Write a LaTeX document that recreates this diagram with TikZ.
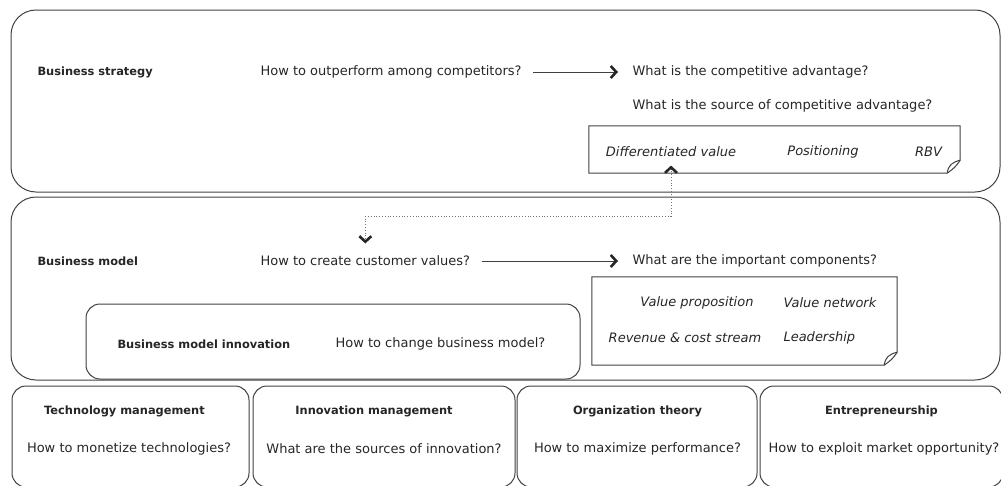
\documentclass[tikz,border=0pt]{standalone}
\usepackage{fontspec}
\setmainfont{DejaVu Sans}
\usetikzlibrary{arrows.meta}

% note frame with a turned-down corner round a named node
\newcommand\dogear[1]{%
  \draw[frame] (#1.north west) -- (#1.north east) -- ([yshift=13pt]#1.south east)
    .. controls ([xshift=-5pt,yshift=6pt]#1.south east) .. ([xshift=-13pt]#1.south east)
    -- (#1.south west) -- cycle;
  \draw[frame] ([xshift=-13pt]#1.south east)
    .. controls ([xshift=-12pt,yshift=8pt]#1.south east) and ([xshift=-8pt,yshift=11pt]#1.south east)
    .. ([yshift=13pt]#1.south east);}

\begin{document}
\begin{tikzpicture}[x=1pt,y=-1pt,
    frame/.style={draw=black!75,line width=1pt},
    field/.style={frame,rounded corners=25pt,inner sep=0pt},
    sub/.style={frame,rounded corners=14pt,inner sep=0pt},
    fieldname/.style={font=\fontsize{11.4}{14}\selectfont\bfseries,text=black!85},
    ask/.style={font=\fontsize{13}{15}\selectfont,text=black!85},
    item/.style={font=\fontsize{13}{15}\selectfont\itshape,text=black!85},
    chev/.tip={Straight Barb[length=5.5pt,width=12pt,line width=2.6pt,color=black!85]},
    flow/.style={draw=black!75,line width=0.8pt,-chev,shorten <=8pt,shorten >=11pt},
    link/.style={draw=black!55,line width=0.8pt,dotted,chev-chev,shorten <=5pt,shorten >=9pt}]
  \clip (0,0) rectangle (1001,485);

  % layers
  \node[field,minimum width=989pt,minimum height=182pt] (strategy) at (505.5,101) {};
  \node[field,minimum width=989pt,minimum height=183pt] (model) at (505.5,288.5) {};
  \node[sub,minimum width=494pt,minimum height=75pt] (bmi) at (333,341.5) {};
  \node[sub,minimum width=237pt,minimum height=101pt] (tech) at (130.5,436.5) {};
  \node[sub,minimum width=262pt,minimum height=101pt] (innov) at (384,436.5) {};
  \node[sub,minimum width=240pt,minimum height=101pt] (org) at (637,436.5) {};
  \node[sub,minimum width=243pt,minimum height=101pt] (entre) at (881.5,436.5) {};

  % business strategy
  \path
    (34,72) node[fieldname,anchor=west] (bs) {Business strategy}
    (257,72) node[ask,anchor=west] (outperform) {How to outperform among competitors?}
    (629,72) node[ask,anchor=west] (advantage) {What is the competitive advantage?}
    (629,106) node[ask,anchor=west] (source) {What is the source of competitive advantage?};
  \node (note1) at (774.5,149.5) [minimum width=371pt,minimum height=47pt] {};
  \dogear{note1}
  \path
    (671,152) node[item] (diff) {Differentiated value}
    (823,152) node[item] (pos) {Positioning}
    (928.5,152) node[item] (rbv) {RBV};

  % business model
  \path
    (34,261) node[fieldname,anchor=west] (bm) {Business model}
    (257,261) node[ask,anchor=west] (cv) {How to create customer values?}
    (629,261) node[ask,anchor=west] (comp) {What are the important components?};
  \node (note2) at (744.5,321) [minimum width=305pt,minimum height=88pt] {};
  \dogear{note2}
  \path
    (697,303) node[item] (vp) {Value proposition}
    (780,303) node[item,anchor=west] (vn) {Value network}
    (685,338) node[item] (rev) {Revenue \& cost stream}
    (780,338) node[item,anchor=west] (lead) {Leadership};
  \path
    (114,344) node[fieldname,anchor=west] (bminame) {Business model innovation}
    (332,344) node[ask,anchor=west] (change) {How to change business model?};

  % neighbouring fields
  \path
    (124.5,411) node[fieldname] (techname) {Technology management}
    (129,449) node[ask] (techq) {How to monetize technologies?}
    (374,411) node[fieldname] (innovname) {Innovation management}
    (384,449) node[ask] (innovq) {What are the sources of innovation?}
    (637.5,411) node[fieldname] (orgname) {Organization theory}
    (637.5,449) node[ask] (orgq) {How to maximize performance?}
    (881.5,411) node[fieldname] (entrename) {Entrepreneurship}
    (884,449) node[ask] (entreq) {How to exploit market opportunity?};

  % connectors
  \path (cv.north) ++(0,-36) coordinate (turn);
  \begin{scope}
    \draw[flow] (outperform.east) -- (advantage.west);
    \draw[flow] (cv.east) -- (comp.west);
    \draw[link] (diff.south) |- (turn) -- (cv.north);
  \end{scope}
\end{tikzpicture}
\end{document}
